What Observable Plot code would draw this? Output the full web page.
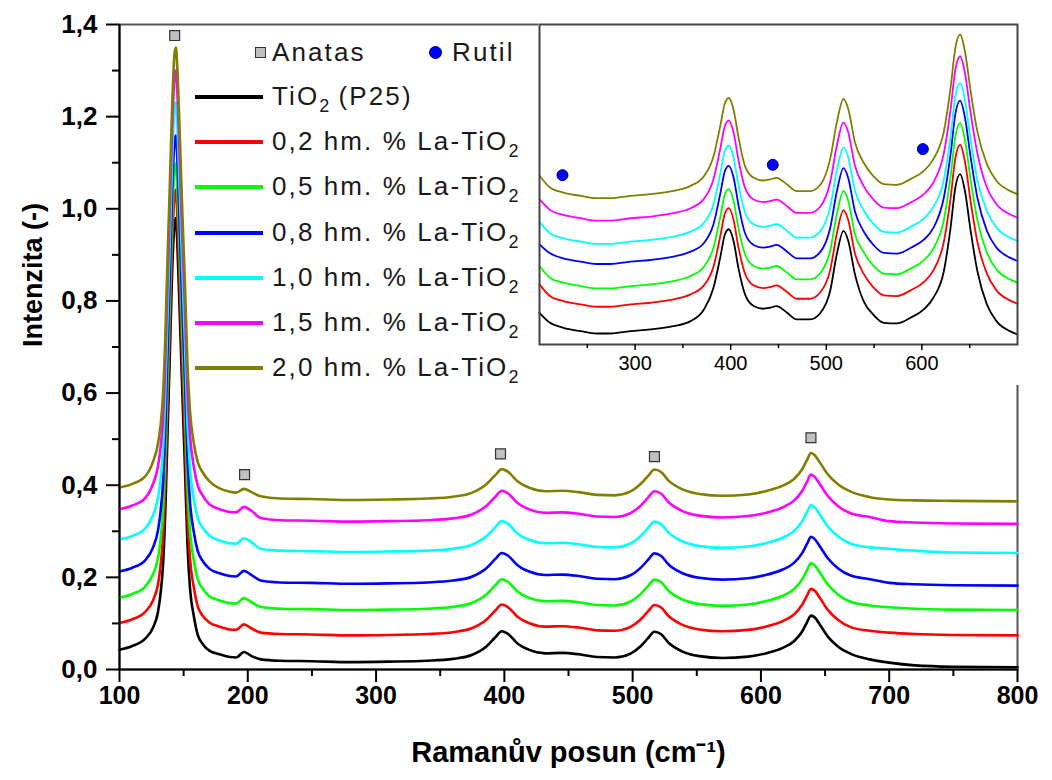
<!DOCTYPE html>
<html><head><meta charset="utf-8">
<script src="https://cdn.jsdelivr.net/npm/d3@7"></script>
<script src="https://cdn.jsdelivr.net/npm/@observablehq/plot@0.6"></script>
<style>
body{margin:0;background:#fff;}
#wrap{position:relative;width:1052px;height:780px;font-family:"Liberation Sans",Arial,sans-serif;}
#wrap svg{position:absolute;}
.lg{position:absolute;font-size:26px;color:#1a1a1a;letter-spacing:2.1px;white-space:nowrap;line-height:26px;}
.lg sub{font-size:18px;vertical-align:-7px;line-height:0;letter-spacing:0;}
.sw{position:absolute;height:4px;}
.sq{position:absolute;width:9px;height:9px;background:#c0c0c0;border:1px solid #333;}
.dt{position:absolute;width:11px;height:11px;border-radius:50%;background:#0000ff;border:1px solid #000066;}
</style></head><body><div id="wrap"></div>
<script>
// ---------- data: main spectra ----------
const ramanX = [100,110,120,126,130,132,134,136,137,139,141,143,144,145,147,149,151,153,155,158,161,165,170,178,186,191,197,203,210,225,250,280,310,340,360,375,386,393,398,403,410,420,432,445,458,472,486,498,506,512,517,522,528,538,552,570,590,605,617,626,632,636,639,642,646,652,660,670,685,700,720,750,800];
const sBlack = [.043,.051,.067,.090,.125,.165,.230,.370,.470,.660,.860,.970,.980,.930,.770,.600,.440,.270,.175,.115,.075,.055,.041,.033,.027,.026,.038,.029,.022,.019,.018,.016,.017,.019,.023,.032,.050,.070,.083,.077,.057,.042,.035,.036,.033,.027,.026,.034,.050,.068,.082,.077,.058,.040,.029,.025,.028,.036,.047,.062,.082,.103,.117,.113,.097,.072,.050,.034,.022,.015,.009,.006,.005];
const sRed = [.101,.109,.125,.149,.185,.225,.291,.433,.533,.721,.919,1.031,1.041,.993,.834,.664,.506,.334,.239,.177,.137,.116,.102,.093,.087,.086,.098,.089,.080,.077,.076,.074,.075,.077,.081,.090,.108,.128,.141,.135,.115,.100,.093,.094,.091,.085,.084,.092,.108,.126,.140,.135,.116,.098,.087,.083,.086,.094,.105,.120,.140,.161,.175,.171,.155,.130,.108,.092,.084,.080,.077,.075,.074];
const sGreen = [.156,.164,.180,.206,.242,.282,.349,.492,.592,.779,.976,1.089,1.099,1.052,.896,.726,.569,.396,.299,.236,.196,.175,.159,.150,.144,.143,.155,.146,.136,.132,.131,.129,.130,.132,.136,.145,.163,.183,.196,.190,.170,.155,.148,.149,.146,.140,.139,.147,.163,.181,.195,.190,.171,.153,.142,.138,.141,.149,.160,.175,.195,.216,.231,.226,.210,.185,.163,.147,.139,.135,.132,.130,.129];
const sBlue = [.213,.221,.237,.264,.302,.342,.409,.554,.654,.839,1.034,1.149,1.159,1.114,.959,.789,.634,.459,.362,.297,.257,.235,.219,.209,.203,.202,.214,.205,.193,.189,.188,.186,.187,.189,.193,.202,.220,.240,.253,.247,.227,.212,.205,.206,.203,.197,.196,.204,.220,.238,.252,.247,.228,.210,.199,.195,.198,.206,.217,.232,.252,.273,.288,.283,.267,.242,.220,.204,.196,.188,.185,.183,.182];
const sCyan = [.282,.290,.306,.334,.373,.413,.481,.628,.728,.911,1.104,1.221,1.231,1.188,1.034,.864,.711,.534,.436,.369,.329,.307,.291,.280,.274,.273,.285,.276,.262,.258,.257,.255,.256,.258,.262,.271,.289,.309,.322,.316,.296,.281,.274,.275,.272,.266,.265,.273,.289,.307,.321,.316,.297,.279,.268,.264,.267,.275,.286,.301,.321,.342,.357,.352,.336,.311,.289,.273,.265,.262,.258,.254,.253];
const sMagenta = [.348,.356,.372,.402,.441,.481,.550,.698,.798,.980,1.172,1.290,1.300,1.258,1.107,.937,.785,.607,.507,.439,.399,.377,.359,.348,.342,.341,.353,.344,.329,.324,.323,.321,.322,.324,.328,.337,.355,.375,.388,.382,.362,.347,.340,.341,.338,.332,.331,.339,.355,.373,.387,.382,.363,.345,.334,.330,.333,.341,.352,.367,.387,.408,.423,.418,.402,.377,.355,.339,.331,.322,.319,.317,.316];
const sOlive = [.395,.403,.419,.450,.490,.530,.600,.750,.850,1.030,1.220,1.340,1.350,1.310,1.160,.990,.840,.660,.560,.490,.450,.427,.409,.393,.386,.384,.392,.385,.376,.371,.370,.368,.369,.371,.375,.384,.402,.422,.435,.429,.409,.394,.387,.388,.385,.379,.378,.386,.402,.420,.434,.429,.410,.392,.381,.377,.380,.388,.399,.414,.434,.455,.470,.465,.449,.424,.402,.386,.374,.369,.367,.366,.365];

// ---------- data: inset spectra (200–700 cm-1) ----------
const insetX = [200,211,225,243,260,274,295,316,340,358,372,382,389,394,398,403,408,415,424,434,441,448,459,469,483,494,504,511,518,523,530,539,549,560,574,588,602,612,623,630,635,640,645,651,658,668,678,692,700];
const iBlack = [.095,.065,.050,.040,.033,.033,.040,.045,.055,.070,.105,.170,.260,.330,.345,.310,.230,.150,.115,.107,.110,.115,.095,.075,.075,.095,.160,.270,.340,.310,.210,.130,.090,.065,.063,.080,.105,.140,.220,.350,.470,.510,.460,.340,.220,.120,.070,.040,.030];
const iRed = [.180,.145,.130,.120,.113,.113,.120,.125,.135,.150,.177,.233,.323,.393,.408,.373,.293,.212,.177,.169,.172,.177,.157,.137,.137,.157,.222,.332,.402,.372,.272,.212,.172,.147,.145,.162,.187,.222,.308,.438,.558,.598,.548,.428,.308,.212,.162,.132,.122];
const iGreen = [.235,.200,.185,.175,.168,.168,.175,.180,.190,.205,.233,.290,.380,.450,.465,.430,.350,.270,.235,.227,.230,.235,.215,.195,.195,.215,.280,.390,.460,.430,.330,.277,.237,.212,.210,.227,.252,.287,.373,.503,.623,.663,.613,.493,.373,.275,.225,.195,.185];
const iBlue = [.300,.273,.258,.248,.241,.241,.248,.253,.263,.278,.304,.360,.450,.520,.535,.500,.420,.333,.298,.290,.293,.298,.278,.258,.258,.278,.348,.458,.528,.498,.398,.339,.299,.274,.272,.289,.314,.349,.440,.570,.690,.730,.680,.560,.440,.340,.290,.260,.250];
const iCyan = [.368,.333,.318,.308,.301,.301,.308,.313,.323,.338,.364,.420,.510,.580,.595,.560,.480,.395,.360,.352,.355,.360,.340,.320,.320,.340,.410,.520,.590,.560,.460,.402,.362,.337,.335,.352,.377,.412,.493,.623,.743,.783,.733,.613,.493,.400,.350,.320,.310];
const iMagenta = [.435,.403,.388,.378,.371,.371,.378,.383,.393,.408,.436,.495,.585,.655,.670,.635,.555,.469,.434,.426,.429,.434,.414,.394,.394,.414,.485,.595,.665,.635,.535,.475,.435,.410,.408,.425,.450,.485,.573,.703,.823,.863,.813,.693,.573,.470,.420,.390,.380];
const iOlive = [.505,.470,.455,.445,.438,.438,.445,.450,.460,.475,.504,.563,.653,.723,.738,.703,.623,.534,.499,.491,.494,.499,.479,.459,.459,.479,.555,.665,.735,.705,.605,.545,.505,.480,.478,.495,.520,.555,.638,.768,.888,.928,.878,.758,.638,.540,.490,.460,.450];

// ---------- series, markers, ticks ----------
const seriesKeys = ["TiO2 (P25)","0,2 hm. % La-TiO2","0,5 hm. % La-TiO2","0,8 hm. % La-TiO2","1,0 hm. % La-TiO2","1,5 hm. % La-TiO2","2,0 hm. % La-TiO2"];
const seriesLabels = ["TiO<sub>2</sub> (P25)","0,2 hm. % La-TiO<sub>2</sub>","0,5 hm. % La-TiO<sub>2</sub>","0,8 hm. % La-TiO<sub>2</sub>","1,0 hm. % La-TiO<sub>2</sub>","1,5 hm. % La-TiO<sub>2</sub>","2,0 hm. % La-TiO<sub>2</sub>"];
const seriesColors = ["#000000","#ff0000","#00ff00","#0000ff","#00ffff","#ff00ff","#808000"];
const anatasX = [143, 197.5, 397, 517, 639];
const anatasY = [1.376, 0.423, 0.468, 0.462, 0.503];
const rutilX = [224, 444, 601];
const rutilY = [0.507, 0.538, 0.585];
const xTicks = [100,200,300,400,500,600,700,800];
const xMinor = [150,250,350,450,550,650,750];
const yTicks = [0,0.2,0.4,0.6,0.8,1.0,1.2,1.4];
const yMinor = [0.1,0.3,0.5,0.7,0.9,1.1,1.3];
const insetTicks = [300,400,500,600];
const insetMinor = [250,350,450,550,650];

const mainSeries = [sBlack,sRed,sGreen,sBlue,sCyan,sMagenta,sOlive];
const insetSeries = [iBlack,iRed,iGreen,iBlue,iCyan,iMagenta,iOlive];
const mainData = mainSeries.flatMap((v,i)=>ramanX.map((x,j)=>({x, y:v[j], s:seriesKeys[i]})));
const insetData = insetSeries.flatMap((v,i)=>insetX.map((x,j)=>({x, y:v[j], s:seriesKeys[i]})));
const anatas = anatasX.map((x,i)=>({x, y:anatasY[i]}));
const rutil = rutilX.map((x,i)=>({x, y:rutilY[i]}));
const comma = d => d3.format(".1f")(d).replace(".", ",");
const color = {domain: seriesKeys, range: seriesColors};

const wrap = document.getElementById("wrap");

const main = Plot.plot({
  width: 1052, height: 780,
  marginLeft: 119, marginRight: 35, marginTop: 24, marginBottom: 111,
  style: {fontFamily: "'Liberation Sans', Arial, sans-serif", color: "#000", background: "#fff"},
  x: {domain: [100, 800]},
  y: {domain: [0, 1.4]},
  color,
  marks: [
    Plot.frame({stroke: "#555", strokeWidth: 2}),
    Plot.line(mainData, {x: "x", y: "y", z: "s", stroke: "s", strokeWidth: 2.6, curve: "monotone-x"}),
    Plot.dot(anatas, {x: "x", y: "y", symbol: "square", r: 5.6, fill: "#c0c0c0", stroke: "#333", strokeWidth: 1.2}),
    Plot.ruleY([0], {stroke: "#000", strokeWidth: 2}),
    Plot.ruleX([100], {stroke: "#000", strokeWidth: 2}),
    Plot.axisX(xTicks, {tickSize: 13, tickPadding: 4, strokeWidth: 2, tickFormat: d => String(d), fontSize: 25, fontWeight: "bold", label: null}),
    Plot.axisX(xMinor, {tickSize: 7, strokeWidth: 2, tickFormat: () => "", label: null}),
    Plot.axisY(yTicks, {tickSize: 13, tickPadding: 9, strokeWidth: 2, tickFormat: comma, fontSize: 26, fontWeight: "bold", letterSpacing: 1, label: null}),
    Plot.axisY(yMinor, {tickSize: 7, strokeWidth: 2, tickFormat: () => "", label: null}),
    Plot.text(["Ramanův posun (cm⁻¹)"], {frameAnchor: "bottom", dy: 92, fontSize: 29, fontWeight: "bold", letterSpacing: 0.6}),
    Plot.text(["Intenzita (-)"], {frameAnchor: "left", dx: -86, rotate: -90, fontSize: 27, fontWeight: "bold", letterSpacing: 1})
  ]
});
main.style.left = "0px"; main.style.top = "0px";
wrap.appendChild(main);

const inset = Plot.plot({
  width: 481, height: 362,
  marginLeft: 1, marginRight: 2, marginTop: 1, marginBottom: 41,
  style: {fontFamily: "'Liberation Sans', Arial, sans-serif", color: "#000", background: "#fff"},
  x: {domain: [200, 700]},
  y: {domain: [0, 0.958], axis: null},
  color,
  marks: [
    Plot.line(insetData, {x: "x", y: "y", z: "s", stroke: "s", strokeWidth: 1.8, curve: "monotone-x"}),
    Plot.dot(rutil, {x: "x", y: "y", r: 5.5, fill: "#0000ff", stroke: "#000066", strokeWidth: 1}),
    Plot.frame({stroke: "#444", strokeWidth: 2}),
    Plot.axisX(insetTicks, {tickSize: 6, tickPadding: 5, strokeWidth: 1.5, tickFormat: d => String(d), fontSize: 20, label: null}),
    Plot.axisX(insetMinor, {tickSize: 4, strokeWidth: 1.5, tickFormat: () => "", label: null})
  ]
});
inset.style.left = "538px"; inset.style.top = "23px";
wrap.appendChild(inset);

// ---------- legend (HTML overlay) ----------
const lg = document.createElement("div");
lg.style.position = "absolute"; lg.style.left = "0"; lg.style.top = "0";
let html = "";
html += `<div class="sq" style="left:255px;top:47px"></div><div class="lg" style="left:272px;top:39px">Anatas</div>`;
html += `<div class="dt" style="left:429px;top:46px"></div><div class="lg" style="left:452px;top:39px">Rutil</div>`;
seriesLabels.forEach((t,i)=>{
  const cy = 97 + i*45.2;
  html += `<div class="sw" style="left:195px;width:68px;top:${cy-2}px;background:${seriesColors[i]}"></div>`;
  html += `<div class="lg" style="left:272px;top:${cy-14}px">${t}</div>`;
});
lg.innerHTML = html;
wrap.appendChild(lg);
</script>
</body></html>
